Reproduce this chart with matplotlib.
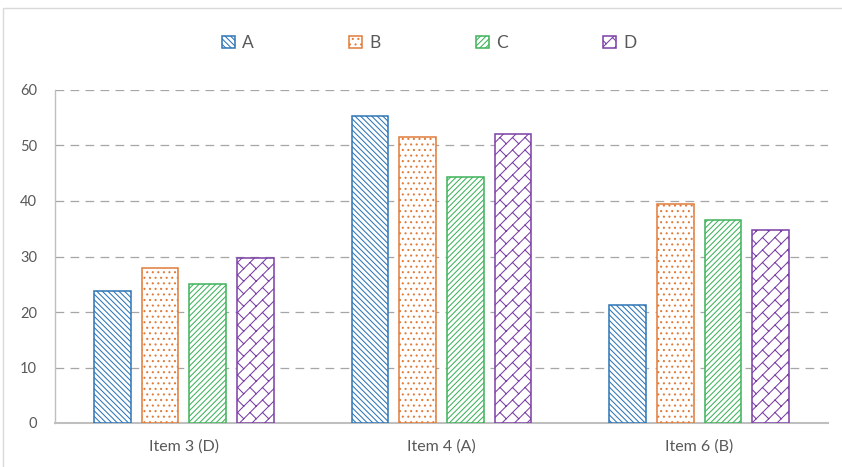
import warnings
import numpy as np
import matplotlib
matplotlib.use("Agg")
import matplotlib.pyplot as plt
import matplotlib.hatch as mhatch
from matplotlib.path import Path
from matplotlib.patches import Patch, Rectangle

warnings.filterwarnings("ignore")

categories = ["Item 3 (D)", "Item 4 (A)", "Item 6 (B)"]
series = ["A", "B", "C", "D"]
values_a = [23.8, 55.4, 21.2]
values_b = [28.0, 51.6, 39.4]
values_c = [25.0, 44.4, 36.5]
values_d = [29.8, 52.1, 34.7]
yticks = [0, 10, 20, 30, 40, 50, 60]

colors = ["#2E75B6", "#E07B39", "#3DB35A", "#7A3FA6"]
hatches = ["\\" * 6, "...", "/" * 6, "b"]


# diagonal brick hatch: long "/" lines with staggered short "\" joints
class DiagonalBrickHatch(mhatch.HatchPatternBase):
    N = 8   # long lines per tile
    M = 4   # joints per tile along a line

    def __init__(self, hatch, density):
        if "b" not in hatch:
            self.num_vertices = 0
            return
        self.segs = []
        for k in range(-2 * self.N, 2 * self.N):
            c = k / self.N
            self.segs.append(((c - 1.0, -1.0), (c + 2.0, 2.0)))
            shift = 0.5 / self.M if k % 2 else 0.0
            for j in range(-3 * self.M, 3 * self.M):
                d = j / self.M + shift
                c2 = c + 1.0 / self.N
                p1 = ((d + c) / 2, (d - c) / 2)
                p2 = ((d + c2) / 2, (d - c2) / 2)
                if -0.2 < p1[0] < 1.2 and -0.2 < p1[1] < 1.2:
                    self.segs.append((p1, p2))
        self.num_vertices = 2 * len(self.segs)

    def set_vertices_and_codes(self, vertices, codes):
        for i, (p1, p2) in enumerate(self.segs):
            vertices[2 * i] = p1
            vertices[2 * i + 1] = p2
            codes[2 * i] = Path.MOVETO
            codes[2 * i + 1] = Path.LINETO


mhatch._hatch_types.append(DiagonalBrickHatch)

plt.rcParams["font.family"] = ["Lato", "DejaVu Sans"]
plt.rcParams["hatch.linewidth"] = 0.75

fig = plt.figure(figsize=(8.42, 4.67), dpi=100)
ax = fig.add_axes([55 / 842, 1 - 423 / 467, 773 / 842, 333 / 467])

# light chart-area border
fig.patches.append(Rectangle((3 / 842, -0.1), 1.2, 1 - 8 / 467 + 0.1,
                             transform=fig.transFigure, fill=False,
                             edgecolor="#D9D9D9", linewidth=1.0))

x = np.arange(len(categories))
width = 0.143
step = 0.185
all_values = [values_a, values_b, values_c, values_d]
for i, vals in enumerate(all_values):
    ax.bar(x + (i - 1.5) * step, vals, width, facecolor="white",
           edgecolor=colors[i], hatch=hatches[i], linewidth=1.1,
           label=series[i], zorder=3)

ax.set_xlim(-0.5, 2.5)
ax.set_ylim(0, 60)
ax.set_yticks(yticks)
ax.set_xticks(x)
ax.set_xticklabels(categories)
ax.tick_params(axis="both", length=0, colors="#595959")
ax.tick_params(axis="y", labelsize=10.5, pad=13)
ax.tick_params(axis="x", labelsize=11.5, pad=12)

ax.yaxis.grid(True, color="#A6A6A6", linestyle=(0, (7, 5)), linewidth=0.9,
              zorder=0)
ax.set_axisbelow(True)
for side in ["top", "right"]:
    ax.spines[side].set_visible(False)
ax.spines["bottom"].set_color("#BFBFBF")
ax.spines["bottom"].set_linewidth(1.5)
ax.spines["left"].set_color("#BFBFBF")
ax.spines["left"].set_linewidth(1.0)

handles = [Patch(facecolor="white", edgecolor=colors[i], hatch=hatches[i],
                 linewidth=1.1) for i in range(4)]
leg = fig.legend(handles, series, loc="center",
                 bbox_to_anchor=(0.5 + 8 / 842, 1 - 43 / 467),
                 ncol=4, frameon=False, fontsize=12.5, handlelength=0.75,
                 handleheight=0.75, handletextpad=0.4, columnspacing=5.5)
for t in leg.get_texts():
    t.set_color("#595959")

fig.savefig("out.png", dpi=100)
